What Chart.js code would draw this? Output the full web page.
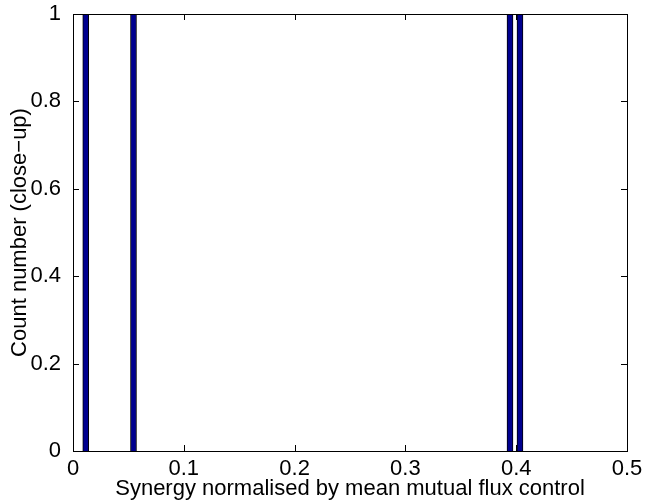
<!DOCTYPE html>
<html lang="en">
<head>
    <meta charset="UTF-8">
    <title>Synergy histogram</title>
    <script src="https://cdn.jsdelivr.net/npm/chart.js"></script>
    <style>
        html, body { margin: 0; padding: 0; background: #fff; }
    </style>
</head>
<body>
    <canvas id="histChart" width="647" height="502"></canvas>

    <script>
        // bin centres (synergy) and counts; counts above 1 get clipped by the close-up
        const binCentres = [0.0115, 0.0546, 0.3944, 0.4034];
        const counts = [3, 2, 2, 4];
        const xTicks = [0, 0.1, 0.2, 0.3, 0.4, 0.5];
        const yTicks = [0, 0.2, 0.4, 0.6, 0.8, 1];

        const font = { family: 'Liberation Sans, Arial, sans-serif', size: 22 };

        // matlab style box with inward tick marks
        const boxPlugin = {
            id: 'box',
            afterDraw(chart) {
                const { ctx, chartArea: a, scales } = chart;
                ctx.save();
                ctx.strokeStyle = '#000';
                ctx.lineWidth = 1;
                ctx.beginPath();
                xTicks.forEach(v => {
                    const x = Math.round(scales.x.getPixelForValue(v)) + 0.5;
                    ctx.moveTo(x, a.bottom); ctx.lineTo(x, a.bottom - 6);
                    ctx.moveTo(x, a.top); ctx.lineTo(x, a.top + 6);
                });
                yTicks.forEach(v => {
                    const y = Math.round(scales.y.getPixelForValue(v)) + 0.5;
                    ctx.moveTo(a.left, y); ctx.lineTo(a.left + 6, y);
                    ctx.moveTo(a.right, y); ctx.lineTo(a.right - 6, y);
                });
                ctx.stroke();
                ctx.strokeRect(Math.round(a.left) + 0.5, Math.round(a.top) + 0.5,
                    Math.round(a.right - a.left), Math.round(a.bottom - a.top));
                ctx.restore();
            }
        };

        new Chart(document.getElementById('histChart'), {
            type: 'bar',
            data: {
                datasets: [{
                    data: binCentres.map((x, i) => ({ x: x, y: counts[i] })),
                    backgroundColor: '#00008f',
                    borderColor: '#000',
                    borderWidth: 1,
                    barThickness: 6
                }]
            },
            options: {
                responsive: false,
                animation: false,
                devicePixelRatio: 1,
                layout: { padding: { top: 14, right: 20, left: 7, bottom: 0 } },
                plugins: { legend: { display: false }, tooltip: { enabled: false } },
                scales: {
                    x: {
                        type: 'linear',
                        min: 0, max: 0.5,
                        offset: false,
                        grid: { display: false },
                        border: { display: false },
                        afterBuildTicks: s => { s.ticks = xTicks.map(v => ({ value: v })); },
                        afterFit: s => { s.height = 51; s.paddingLeft = 0; s.paddingRight = 0; },
                        ticks: {
                            color: '#000', font: font, padding: -3, maxRotation: 0, autoSkip: false,
                            callback: v => String(v)
                        },
                        title: {
                            display: true,
                            text: 'Synergy normalised by mean mutual flux control',
                            color: '#000', font: font, padding: 0
                        }
                    },
                    y: {
                        min: 0, max: 1,
                        grid: { display: false },
                        border: { display: false },
                        afterBuildTicks: s => { s.ticks = yTicks.map(v => ({ value: v })); },
                        afterFit: s => { s.width = 66; s.paddingTop = 0; s.paddingBottom = 0; },
                        ticks: { color: '#000', font: font, padding: 4, callback: v => String(v) },
                        title: {
                            display: true,
                            text: 'Count number (close\u2212up)',
                            color: '#000', font: font, padding: 0
                        }
                    }
                }
            },
            plugins: [boxPlugin]
        });
    </script>
</body>
</html>
